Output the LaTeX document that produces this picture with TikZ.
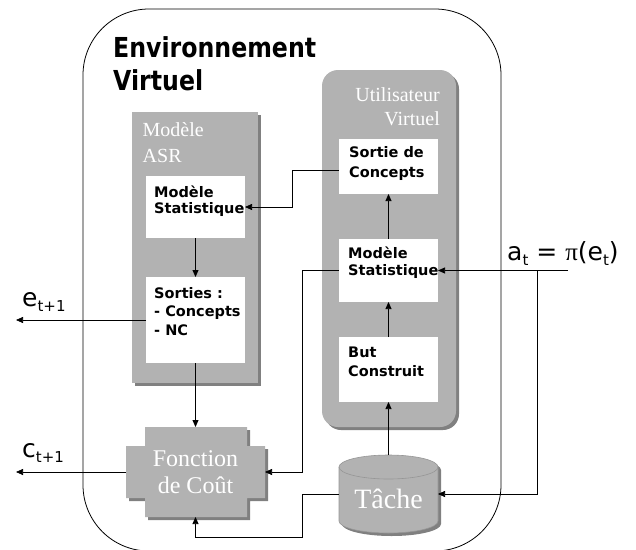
\documentclass[tikz,border=0pt]{standalone}
\usepackage{fontspec}
\setmainfont{Liberation Serif}
\setsansfont{DejaVu Sans}
\newfontfamily\titlefont[FakeStretch=0.86]{DejaVu Sans}
\usetikzlibrary{arrows.meta,shadows}
\definecolor{pgray}{RGB}{178,178,178}
\definecolor{sgray}{RGB}{128,128,128}
\definecolor{lgray}{RGB}{150,150,150}
\newcommand\lsub[1]{\raisebox{-5pt}{\fontsize{15}{15}\selectfont #1}}
\begin{document}
\begin{tikzpicture}[x=1pt,y=-1pt,
  shad/.style={drop shadow={shadow xshift=3pt,shadow yshift=-3pt,fill=sgray,opacity=1}},
  panel/.style={fill=pgray,draw=none,anchor=north west,inner sep=0,outer sep=0,shad},
  wbox/.style={fill=white,draw=none,anchor=north west,inner sep=0,outer sep=0,minimum width=99pt},
  btext/.style={font=\sffamily\bfseries\fontsize{14.5}{#1}\selectfont,align=left,anchor=north west,inner sep=0},
  ptext/.style={font=\rmfamily\fontsize{20}{#1}\selectfont,text=white,inner sep=0},
  wire/.style={line width=0.75pt},
  arr/.style={line width=0.75pt,-{Triangle[length=7pt,width=6pt]}},
  lab/.style={font=\sffamily\fontsize{25}{25}\selectfont,anchor=base west,inner sep=0}
]
\useasboundingbox (0,0) rectangle (636,549);

% outer environment frame
\node[draw,line width=0.8pt,rounded corners=66pt,minimum width=418pt,minimum height=542pt,anchor=north west,inner sep=0,outer sep=0] (env) at (83,9) {};
\node[font=\titlefont\bfseries\fontsize{27.5}{33}\selectfont,align=left,anchor=north west,inner sep=0] (title) at (113,36) {Environnement\\Virtuel};

% panels
\node[panel,minimum width=126pt,minimum height=271pt] (asr) at (132,112) {};
\node[ptext=26,align=left,anchor=north west] (asrt) at (142.5,122.5) {Modèle\\ASR};
\node[panel,rounded corners=16pt,minimum width=134pt,minimum height=357pt] (uv) at (322,70) {};
\node[ptext=23.5,align=right,anchor=north east] (uvt) at (440,87.5) {Utilisateur\\Virtuel};

% white boxes
\node[wbox,minimum height=62pt] (ms1) at (146,176) {};
\node[btext=16] (ms1t) at ([xshift=8pt,yshift=-10pt]ms1.north west) {Modèle\\Statistique};
\node[wbox,minimum height=86pt] (so) at (146,277) {};
\node[btext=18.7] (sot) at ([xshift=8pt,yshift=-10pt]so.north west) {Sorties :\\- Concepts\\- NC};
\node[wbox,minimum height=55pt] (sc) at (339,139) {};
\node[btext=20] (sct) at ([xshift=10pt,yshift=-7pt]sc.north west) {Sortie de\\Concepts};
\node[wbox,minimum height=63pt] (ms2) at (339,239) {};
\node[btext=16.7] (ms2t) at ([xshift=9pt,yshift=-8pt]ms2.north west) {Modèle\\Statistique};
\node[wbox,minimum height=65pt] (bc) at (339,337) {};
\node[btext=19] (bct) at ([xshift=9pt,yshift=-10pt]bc.north west) {But\\Construit};

% Fonction de Cout (cross shape)
\path[fill=pgray,shad] (145,427) -- (247,427) -- (247,446) -- (265,446) -- (265,498) -- (247,498) -- (247,517) -- (145,517) -- (145,498) -- (126,498) -- (126,446) -- (145,446) -- cycle;
\node[minimum width=139pt,minimum height=90pt,inner sep=0,outer sep=0,align=center,text=white,font=\rmfamily\fontsize{24}{27.5}\selectfont] (fc) at (195.5,472) {Fonction\\de Coût};

% Tache (cylinder)
\path[fill=pgray,draw=lgray,line width=0.6pt,shad] (339,467) -- (339,521) arc[start angle=180,end angle=360,x radius=49.5pt,y radius=12pt] -- (438,467) arc[start angle=0,end angle=180,x radius=49.5pt,y radius=12pt] -- cycle;
\draw[lgray,line width=0.6pt] (339,467) arc[start angle=180,end angle=360,x radius=49.5pt,y radius=12pt];
\node[minimum width=99pt,minimum height=78pt,inner sep=0,outer sep=0] (tache) at (388.5,494) {};
\node[font=\rmfamily\fontsize{28}{28}\selectfont,text=white,anchor=base,inner sep=0] (tachet) at ([yshift=-14pt]tache.center) {Tâche};

% connectors
\coordinate (eout) at (16,320);
\coordinate (cout) at (16,472);
\coordinate (ain) at (568,270.5);
\coordinate (asplit) at (537,270.5);
\draw[arr] ([yshift=-4pt]sc.west) -- ++(-47,0) |- (ms1.east);
\draw[arr] (ms1.south) -- (so.north);
\draw[arr] (so.west) -- (eout);
\draw[arr] (so.south) -- (fc.north);
\draw[arr] (ms2.west) -- ++(-37,0) |- (fc.east);
\draw[arr] (ain) -- (ms2.east);
\draw[arr] (asplit) |- (tache.east);
\draw[arr] (tache.north) -- (bc.south);
\draw[arr] (bc.north) -- (ms2.south);
\draw[arr] (ms2.north) -- (sc.south);
\draw[arr] (tache.west) -- ++(-37,0) -- ++(0,43) -| (fc.south);
\draw[arr] (fc.west) -- (cout);

% labels
\node[lab] (el) at (22,306.5) {e\lsub{t+1}};
\node[lab] (cl) at (22,457) {c\lsub{t+1}};
\node[lab] (al) at (507,260) {a\lsub{t} = {\rmfamily π}(e\lsub{t})};
\end{tikzpicture}
\end{document}
